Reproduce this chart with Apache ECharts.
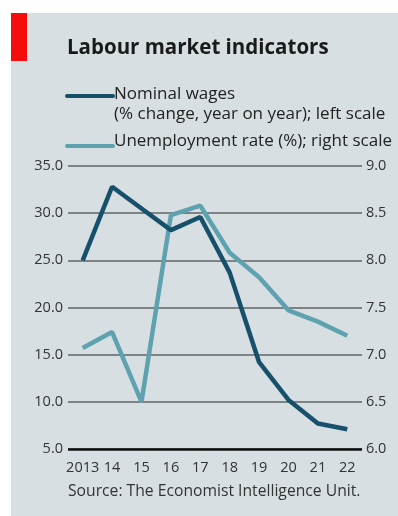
<!DOCTYPE html>
<html>
<head>
<meta charset="utf-8">
<script src="https://cdn.jsdelivr.net/npm/echarts@6/dist/echarts.min.js"></script>
<style>
  html, body { margin: 0; padding: 0; background: #ffffff; }
  #chart { width: 398px; height: 516px; }
</style>
</head>
<body>
<div id="chart"></div>
<script>
// Years on the x axis
const years = ['2013', '14', '15', '16', '17', '18', '19', '20', '21', '22'];
// Nominal wages, % change year on year (left scale)
const nominalWages = [25.0, 32.8, 30.5, 28.2, 29.6, 23.7, 14.2, 10.2, 7.7, 7.1];
// Unemployment rate, % (right scale)
const unemploymentRate = [7.07, 7.24, 6.5, 8.48, 8.58, 8.08, 7.82, 7.47, 7.35, 7.2];

const DARK = '#17506a';
const LIGHT = '#5ea2b0';
const FONT = '"Open Sans", "Noto Sans", sans-serif';

const chart = echarts.init(document.getElementById('chart'), null, { renderer: 'canvas' });

chart.setOption({
  backgroundColor: '#ffffff',
  animation: false,
  textStyle: { fontFamily: FONT },
  grid: { left: 68, right: 36, top: 166, bottom: 67 },
  graphic: [
    { type: 'rect', shape: { x: 11, y: 13, width: 387, height: 503 }, style: { fill: '#d7dfe3' }, z: -10 },
    { type: 'rect', shape: { x: 11, y: 13, width: 16, height: 48 }, style: { fill: '#f30d0d' } },
    { type: 'text', left: 67, top: 38, style: { text: 'Labour market indicators', font: 'bold 20.5px ' + FONT, fill: '#1a1a1a' } },
    { type: 'line', shape: { x1: 67, y1: 96, x2: 113, y2: 96 }, style: { stroke: DARK, lineWidth: 4, lineCap: 'round' } },
    { type: 'text', left: 114, top: 84, style: { text: 'Nominal wages\n(% change, year on year); left scale', font: '17px ' + FONT, fill: '#222', lineHeight: 20 } },
    { type: 'line', shape: { x1: 67, y1: 146, x2: 113, y2: 146 }, style: { stroke: LIGHT, lineWidth: 4, lineCap: 'round' } },
    { type: 'text', left: 114, top: 133, style: { text: 'Unemployment rate (%); right scale', font: '17px ' + FONT, fill: '#222' } },
    { type: 'text', left: 68, top: 484, style: { text: 'Source: The Economist Intelligence Unit.', font: '15.7px ' + FONT, fill: '#333' } }
  ],
  xAxis: {
    type: 'category',
    data: years,
    boundaryGap: true,
    axisLine: { show: false },
    axisTick: { show: false },
    axisLabel: { color: '#333', fontSize: 14.5, margin: 11, interval: 0 }
  },
  yAxis: [
    {
      type: 'value', min: 5, max: 35, interval: 5, position: 'left',
      axisLine: { show: false }, axisTick: { show: false },
      axisLabel: { color: '#333', fontSize: 14.5, margin: 5, formatter: v => v.toFixed(1) },
      splitLine: { lineStyle: { color: '#5f6366', width: 1.5 } }
    },
    {
      type: 'value', min: 6, max: 9, interval: 0.5, position: 'right',
      axisLine: { show: false }, axisTick: { show: false },
      axisLabel: { color: '#333', fontSize: 14.5, margin: 4, formatter: v => v.toFixed(1) },
      splitLine: { show: false }
    }
  ],
  series: [
    {
      name: 'Unemployment rate (%); right scale',
      type: 'line', yAxisIndex: 1, data: unemploymentRate,
      symbol: 'none', lineStyle: { color: LIGHT, width: 4.5 }, z: 3
    },
    {
      name: 'Nominal wages (% change, year on year); left scale',
      type: 'line', yAxisIndex: 0, data: nominalWages,
      symbol: 'none', lineStyle: { color: DARK, width: 4.5 }, z: 4,
      markLine: {
        silent: true, symbol: 'none', label: { show: false },
        lineStyle: { color: '#111', width: 2.5, type: 'solid' },
        data: [{ yAxis: 5 }]
      }
    }
  ]
});
</script>
</body>
</html>
